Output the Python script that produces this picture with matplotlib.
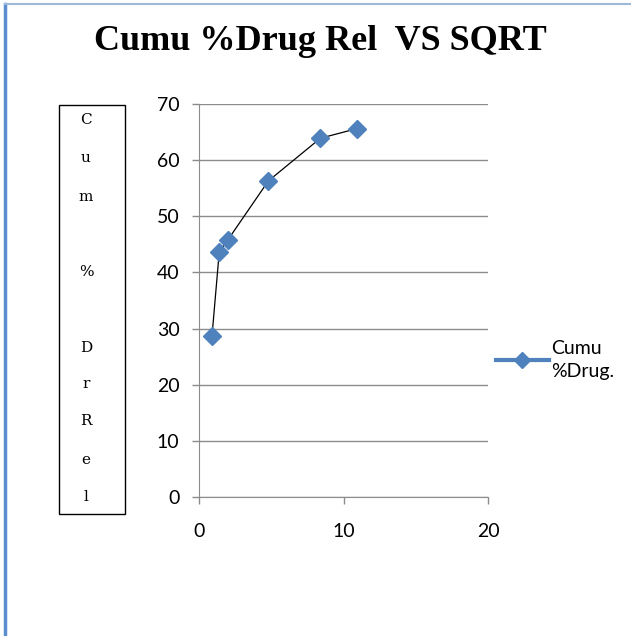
import matplotlib
matplotlib.use("Agg")
import matplotlib.pyplot as plt
from matplotlib.lines import Line2D
from matplotlib.patches import Rectangle

# values
sqrt_t = [0.9, 1.4, 2.0, 4.8, 8.4, 10.9]
cum_rel = [28.7, 43.6, 45.8, 56.3, 63.9, 65.6]
ylabel_letters = ["C", "u", "m", "", "%", "", "D", "r", "R", "e", "l"]

blue = "#4F81BD"
grid = "#8c8c8c"
tickfont = "Lato"

fig = plt.figure(figsize=(6.31, 6.36), dpi=100)
ax = fig.add_axes([199 / 631, 1 - 497 / 636, 289 / 631, 393 / 636])

ax.plot(sqrt_t, cum_rel, color="black", lw=0.9, zorder=2)
ax.plot(sqrt_t, cum_rel, ls="none", marker="D", ms=9, color=blue, zorder=3)

ax.set_xlim(0, 20)
ax.set_ylim(0, 70)
ax.set_xticks([0, 10, 20])
ax.set_yticks(range(0, 71, 10))
ax.yaxis.grid(True, color=grid, lw=1)
ax.set_axisbelow(True)
for s in ["top", "right"]:
    ax.spines[s].set_visible(False)
for s in ["left", "bottom"]:
    ax.spines[s].set_color(grid)
ax.tick_params(axis="both", colors=grid, length=5, width=1, labelcolor="black",
               labelsize=14)
ax.tick_params(axis="y", pad=9)
ax.tick_params(axis="x", pad=14)
for lab in ax.get_xticklabels() + ax.get_yticklabels():
    lab.set_family(tickfont)

# title
fig.text(0.508, 1 - 42 / 636, "Cumu %Drug Rel  VS SQRT", ha="center", va="center",
         fontsize=26, fontweight="bold", family="Liberation Serif")

# boxed vertical y label
fig.patches.append(Rectangle((59 / 631, 1 - 514 / 636), 66 / 631, 409 / 636,
                             transform=fig.transFigure, fill=False, ec="black", lw=1))
ys = [120, 158, 197, 235, 272, 310, 348, 384, 421, 460, 497]
for ch, yy in zip(ylabel_letters, ys):
    if ch:
        fig.text(86 / 631, 1 - yy / 636, ch, ha="center", va="center",
                 fontsize=11, family="DejaVu Serif")

# legend
handle = Line2D([], [], color=blue, lw=3, marker="D", ms=8)
leg = fig.legend([handle], ["Cumu\n%Drug."], loc="center left",
                 bbox_to_anchor=(496 / 631, 1 - 360 / 636), frameon=False,
                 prop={"family": tickfont, "size": 14}, handlelength=2.7,
                 handletextpad=0.15, borderaxespad=0, borderpad=0)
for t in leg.get_texts():
    t.set_linespacing(1.5)

# chart frame
fig.add_artist(Line2D([5 / 631, 5 / 631], [0, 1 - 4 / 636], transform=fig.transFigure,
                      color="#5b8ed0", lw=2.5))
fig.add_artist(Line2D([5 / 631, 1], [1 - 4 / 636, 1 - 4 / 636], transform=fig.transFigure,
                      color="#9db8d8", lw=1.5))

fig.savefig("out.png", dpi=100)
